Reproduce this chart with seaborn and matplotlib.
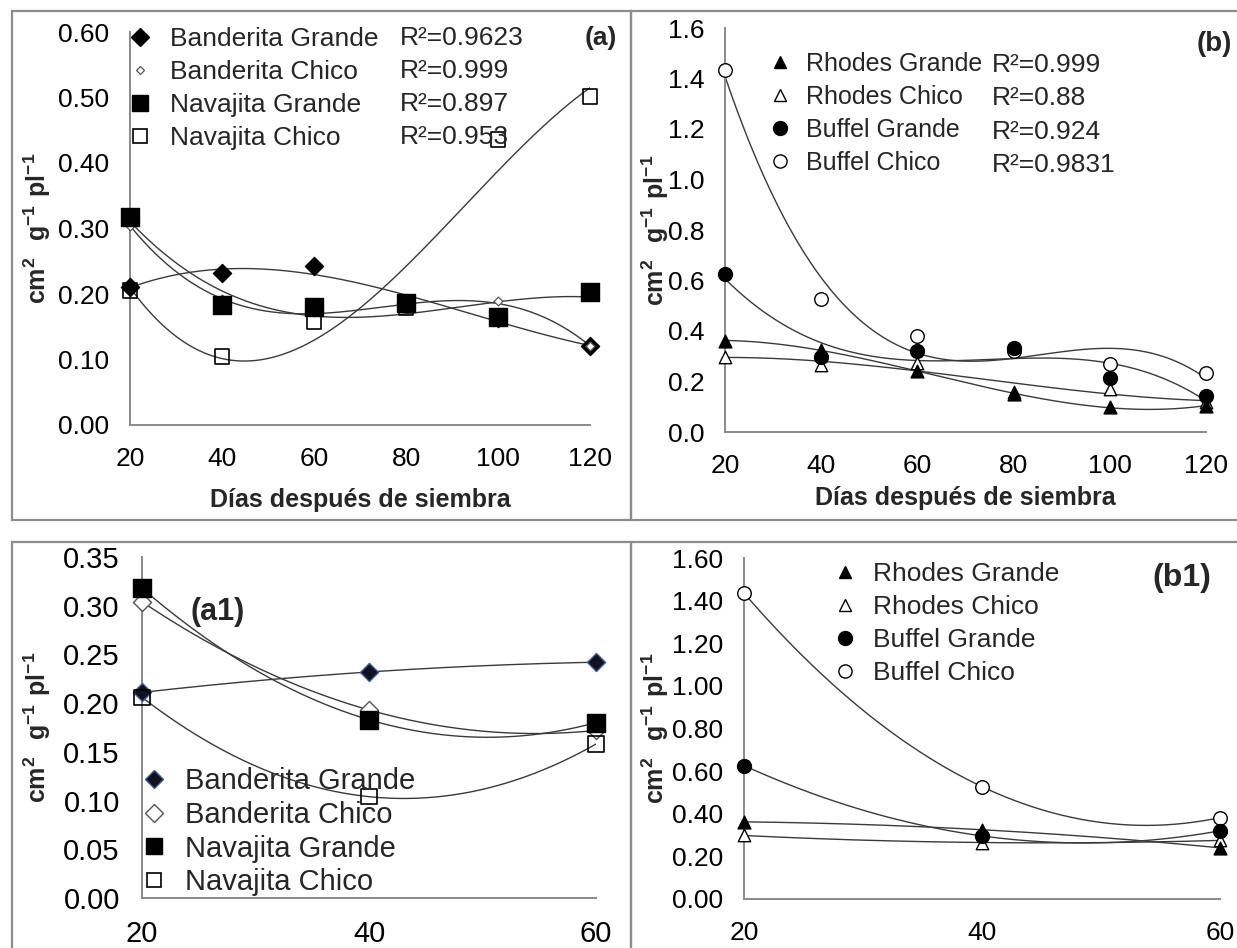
import numpy as np
import matplotlib
matplotlib.use("Agg")
import matplotlib.pyplot as plt
import seaborn as sns
from matplotlib.lines import Line2D
from matplotlib.patches import Rectangle

# ---------------- data ----------------
days = [20, 40, 60, 80, 100, 120]

# panel (a) / (a1)
banderita_grande = [0.211, 0.232, 0.242, 0.186, 0.164, 0.120]
banderita_chico = [0.304, 0.193, 0.172, 0.180, 0.189, 0.120]
navajita_grande = [0.318, 0.183, 0.180, 0.186, 0.165, 0.203]
navajita_chico = [0.206, 0.104, 0.158, 0.180, 0.436, 0.502]
names_a = ["Banderita Grande", "Banderita Chico", "Navajita Grande", "Navajita Chico"]
r2_a = ["R²=0.9623", "R²=0.999", "R²=0.897", "R²=0.953"]

# panel (b) / (b1)
rhodes_grande = [0.362, 0.325, 0.240, 0.152, 0.098, 0.104]
rhodes_chico = [0.298, 0.265, 0.275, 0.158, 0.170, 0.120]
buffel_grande = [0.626, 0.296, 0.320, 0.332, 0.213, 0.143]
buffel_chico = [1.435, 0.527, 0.382, 0.320, 0.268, 0.235]
names_b = ["Rhodes Grande", "Rhodes Chico", "Buffel Grande", "Buffel Chico"]
r2_b = ["R²=0.999", "R²=0.88", "R²=0.924", "R²=0.9831"]

xticks_full = [20, 40, 60, 80, 100, 120]
xticks_short = [20, 40, 60]
yticks_a = [0.00, 0.10, 0.20, 0.30, 0.40, 0.50, 0.60]
yticks_b = [0.0, 0.2, 0.4, 0.6, 0.8, 1.0, 1.2, 1.4, 1.6]
yticks_a1 = [0.00, 0.05, 0.10, 0.15, 0.20, 0.25, 0.30, 0.35]
yticks_b1 = [0.00, 0.20, 0.40, 0.60, 0.80, 1.00, 1.20, 1.40, 1.60]
xlabel_text = "Días después de siembra"
ylabel_text = r"$\mathbf{cm^{2}\ \ g^{-1}\ pl^{-1}}$"

# ---------------- style ----------------
sns.set_style("white")
plt.rcParams["font.family"] = ["Liberation Sans", "DejaVu Sans"]
plt.rcParams["mathtext.fontset"] = "custom"
plt.rcParams["mathtext.rm"] = "Liberation Sans"
plt.rcParams["mathtext.bf"] = "Liberation Sans:bold"

W, H = 1237, 948
GRAY = "#8a8a8a"
LINE = "#3a3a3a"

fig = plt.figure(figsize=(W / 100, H / 100), dpi=100)
fig.patch.set_facecolor("white")


def fx(px):
    return px / W


def fy(py):
    return 1 - py / H


def add_axes(x0, x1, y_top, y_bot):
    return fig.add_axes([fx(x0), fy(y_bot), fx(x1) - fx(x0), fy(y_top) - fy(y_bot)])


# panel frames
for (x0, y0, x1, y1) in [(12, 11, 631, 520), (631, 11, 1245, 520),
                         (12, 542, 631, 960), (631, 542, 1245, 960)]:
    fig.add_artist(Rectangle((fx(x0), fy(y1)), fx(x1) - fx(x0), fy(y0) - fy(y1),
                             transform=fig.transFigure, fill=False,
                             ec="#8c8c8c", lw=1.6, zorder=0))


def style_axes(ax, xticks, yticks, yfmt, fs, ypad):
    ax.set_xlim(xticks[0], xticks[-1])
    ax.set_ylim(yticks[0], yticks[-1])
    ax.set_xticks(xticks)
    ax.set_xticklabels([str(v) for v in xticks])
    ax.set_yticks(yticks)
    ax.set_yticklabels([yfmt.format(v) for v in yticks])
    for s in ["top", "right"]:
        ax.spines[s].set_visible(False)
    for s in ["left", "bottom"]:
        ax.spines[s].set_color(GRAY)
        ax.spines[s].set_linewidth(1.4)
    ax.tick_params(axis="both", direction="out", length=6, width=1.4, color=GRAY,
                   labelsize=fs, labelcolor="black")
    ax.tick_params(axis="x", pad=10)
    ax.tick_params(axis="y", pad=ypad)
    ax.set_facecolor("none")


def trend(ax, x, y, order):
    coef = np.polyfit(x, y, order)
    xs = np.linspace(min(x), max(x), 300)
    ys = np.polyval(coef, xs)
    sns.lineplot(x=xs, y=ys, ax=ax, color=LINE, linewidth=1.0, sort=False,
                 estimator=None, zorder=2)


def points(ax, x, y, marker, size, fc, ec, lw=1.0):
    sns.scatterplot(x=x, y=y, ax=ax, marker=marker, s=size, facecolor=fc,
                    edgecolor=ec, linewidth=lw, clip_on=False, zorder=4, legend=False)


def legend(ax, handles, labels, x_marker, y_top, fs, hl, pad, spacing):
    em = fs * 100 / 72
    anchor_x = x_marker - hl * em / 2
    leg = ax.legend(handles, labels, loc="upper left",
                    bbox_to_anchor=(fx(anchor_x), fy(y_top)),
                    bbox_transform=fig.transFigure, frameon=False, fontsize=fs,
                    handlelength=hl, handletextpad=pad / em, borderpad=0,
                    borderaxespad=0, labelspacing=spacing, numpoints=1)
    return leg


# ---------------- panel (a) ----------------
ax = add_axes(130, 590, 32, 425)
for y, o in [(banderita_grande, 3), (banderita_chico, 3), (navajita_grande, 3), (navajita_chico, 3)]:
    trend(ax, days, y, o)
points(ax, days, banderita_grande, "D", 85, "black", "black")
points(ax, days, banderita_chico, "D", 20, "white", "#555555", 0.9)
points(ax, days, navajita_grande, "s", 150, "black", "black")
points(ax, days, navajita_chico, "s", 115, "none", "black", 1.2)
style_axes(ax, xticks_full, yticks_a, "{:.2f}", 19, 9)
ax.set_xlabel(xlabel_text, fontsize=18, fontweight="bold")
ax.xaxis.set_label_coords(0.5, -(500 - 425) / 393)
ax.xaxis.label.set_va("center")
ax.set_ylabel(ylabel_text, fontsize=18)
ax.yaxis.set_label_coords((37.5 - 130) / 460, 0.5)
ax.yaxis.label.set_va("center")
h_a = [Line2D([], [], ls="none", marker="D", ms=9, mfc="black", mec="black"),
       Line2D([], [], ls="none", marker="D", ms=4.5, mfc="white", mec="#555555", mew=0.9),
       Line2D([], [], ls="none", marker="s", ms=11.5, mfc="black", mec="black"),
       Line2D([], [], ls="none", marker="s", ms=10.5, mfc="none", mec="black", mew=1.2)]
legend(ax, h_a, names_a, 140, 27, 19, 1.0, 17, 0.34)
for i, (t, yy) in enumerate(zip(r2_a, [38, 71, 104, 137])):
    fig.text(fx(400), fy(yy), t, fontsize=19, va="center", ha="left")
fig.text(fx(601), fy(38.5), "(a)", fontsize=19, fontweight="bold", ha="center", va="center")

# ---------------- panel (b) ----------------
ax = add_axes(725, 1206, 28, 432)
for y, o in [(rhodes_grande, 3), (rhodes_chico, 3), (buffel_grande, 3), (buffel_chico, 3)]:
    trend(ax, days, y, o)
points(ax, days, rhodes_chico, "^", 80, "white", "black", 1.0)
points(ax, days, buffel_chico, "o", 95, "white", "black", 1.0)
points(ax, days, rhodes_grande, "^", 85, "black", "black")
points(ax, days, buffel_grande, "o", 100, "black", "black")
style_axes(ax, xticks_full, yticks_b, "{:.1f}", 19, 9)
ax.set_xlabel(xlabel_text, fontsize=18, fontweight="bold")
ax.xaxis.set_label_coords(0.499, -(498 - 432) / 404)
ax.xaxis.label.set_va("center")
ax.set_ylabel(ylabel_text, fontsize=18)
ax.yaxis.set_label_coords((655.5 - 725) / 481, 0.5)
ax.yaxis.label.set_va("center")
h_b = [Line2D([], [], ls="none", marker="^", ms=9, mfc="black", mec="black"),
       Line2D([], [], ls="none", marker="^", ms=8.5, mfc="white", mec="black", mew=1.0),
       Line2D([], [], ls="none", marker="o", ms=10, mfc="black", mec="black"),
       Line2D([], [], ls="none", marker="o", ms=9.5, mfc="white", mec="black", mew=1.0)]
legend(ax, h_b, names_b, 780, 52, 18, 0.8, 16.5, 0.36)
for t, yy in zip(r2_b, [65, 98, 132, 165]):
    fig.text(fx(992), fy(yy), t, fontsize=19, va="center", ha="left")
fig.text(fx(1214), fy(44), "(b)", fontsize=20, fontweight="bold", ha="center", va="center")

# ---------------- panel (a1) ----------------
n = 3
ax = add_axes(142, 596, 557, 898)
for y in [banderita_grande, banderita_chico, navajita_grande, navajita_chico]:
    trend(ax, days[:n], y[:n], 2)
points(ax, days[:n], banderita_grande[:n], "D", 85, "#111122", "#3a5a9a", 1.0)
points(ax, days[:n], banderita_chico[:n], "D", 85, "white", "#555555", 1.0)
points(ax, days[:n], navajita_grande[:n], "s", 150, "black", "black")
points(ax, days[:n], navajita_chico[:n], "s", 120, "none", "black", 1.2)
style_axes(ax, xticks_short, yticks_a1, "{:.2f}", 21, 10)
ax.set_ylabel(ylabel_text, fontsize=18)
ax.yaxis.set_label_coords((37.5 - 142) / 454, 0.5)
ax.yaxis.label.set_va("center")
h_a1 = [Line2D([], [], ls="none", marker="D", ms=9, mfc="#111122", mec="#3a5a9a"),
        Line2D([], [], ls="none", marker="D", ms=9, mfc="white", mec="#555555", mew=1.0),
        Line2D([], [], ls="none", marker="s", ms=11.5, mfc="black", mec="black"),
        Line2D([], [], ls="none", marker="s", ms=10.5, mfc="white", mec="black", mew=1.2)]
legend(ax, h_a1, names_a, 154, 767, 21, 1.0, 16, 0.2)
fig.text(fx(218), fy(612), "(a1)", fontsize=22, fontweight="bold", ha="center", va="center")

# ---------------- panel (b1) ----------------
ax = add_axes(744, 1220, 558, 899)
for y in [rhodes_grande, rhodes_chico, buffel_grande, buffel_chico]:
    trend(ax, days[:n], y[:n], 2)
points(ax, days[:n], rhodes_chico[:n], "^", 80, "white", "black", 1.0)
points(ax, days[:n], buffel_chico[:n], "o", 95, "white", "black", 1.0)
points(ax, days[:n], rhodes_grande[:n], "^", 85, "black", "black")
points(ax, days[:n], buffel_grande[:n], "o", 100, "black", "black")
style_axes(ax, xticks_short, yticks_b1, "{:.2f}", 19, 9)
ax.set_ylabel(ylabel_text, fontsize=18)
ax.yaxis.set_label_coords((655 - 744) / 476, 0.5)
ax.yaxis.label.set_va("center")
legend(ax, h_b, names_b, 845, 562, 19, 0.8, 17, 0.34)
fig.text(fx(1182), fy(578), "(b1)", fontsize=23, fontweight="bold", ha="center", va="center")

fig.savefig("out.png", dpi=100, facecolor="white")
